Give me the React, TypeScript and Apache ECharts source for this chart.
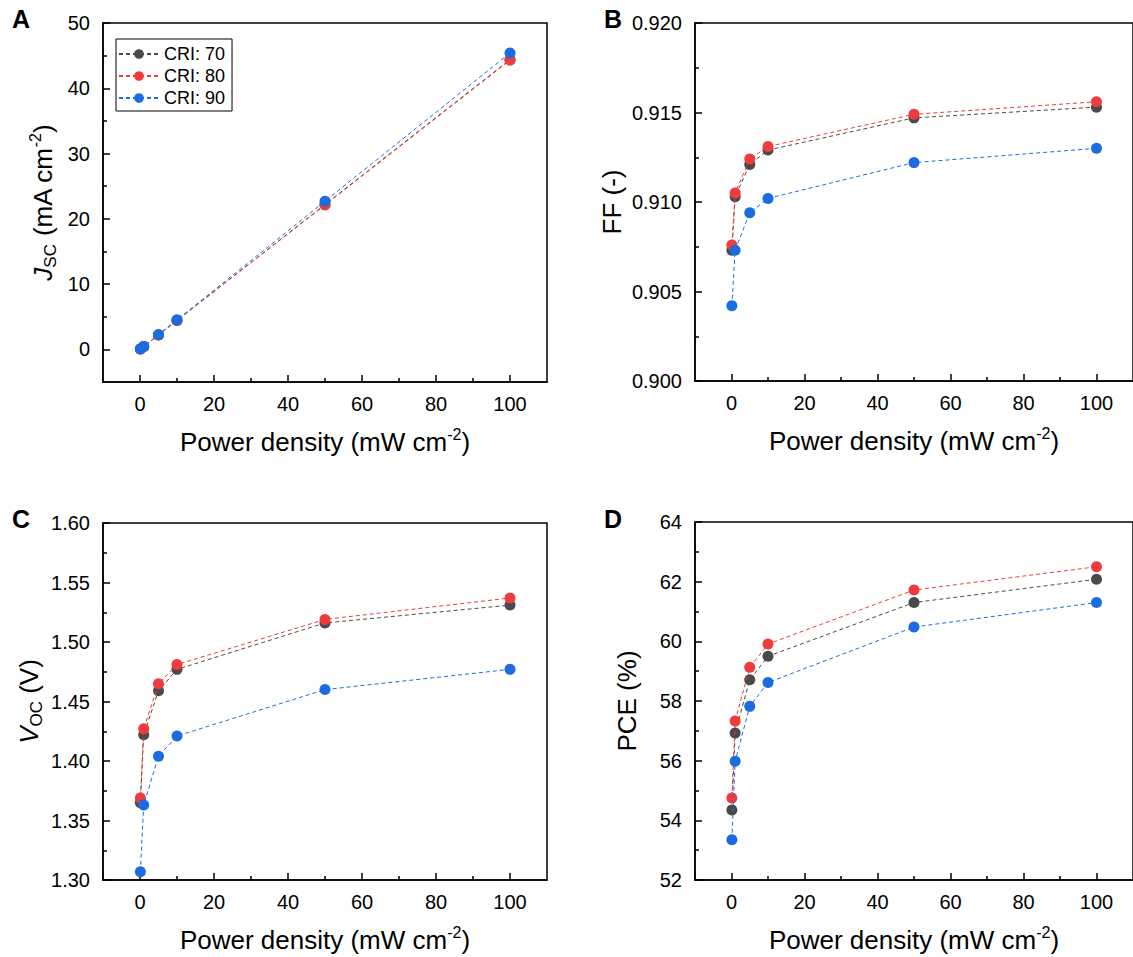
import React, { useEffect, useRef } from "react";
import * as echarts from "echarts";

const POWER = [0.1, 1, 5, 10, 50, 100];
const CRI_NAMES = ["CRI: 70", "CRI: 80", "CRI: 90"];
const COLORS = ["#4a4a4a", "#ef3b3b", "#1b6ddf"];

const JSC_70 = [0.045, 0.44, 2.21, 4.43, 22.2, 44.4];
const JSC_80 = [0.044, 0.44, 2.2, 4.42, 22.1, 44.3];
const JSC_90 = [0.046, 0.45, 2.26, 4.52, 22.7, 45.4];

const FF_70 = [0.9073, 0.9103, 0.9121, 0.9129, 0.9147, 0.9153];
const FF_80 = [0.9076, 0.9105, 0.9124, 0.9131, 0.9149, 0.9156];
const FF_90 = [0.9042, 0.9073, 0.9094, 0.9102, 0.9122, 0.913];

const VOC_70 = [1.365, 1.422, 1.459, 1.477, 1.516, 1.531];
const VOC_80 = [1.369, 1.427, 1.465, 1.481, 1.519, 1.537];
const VOC_90 = [1.307, 1.363, 1.404, 1.421, 1.46, 1.477];

const PCE_70 = [54.35, 56.93, 58.71, 59.5, 61.3, 62.08];
const PCE_80 = [54.75, 57.33, 59.13, 59.91, 61.72, 62.5];
const PCE_90 = [53.35, 55.98, 57.82, 58.62, 60.48, 61.3];

const X_MAJOR = [0, 20, 40, 60, 80, 100];
const X_MINOR = [10, 30, 50, 70, 90];

const JSC_MAJOR = [0, 10, 20, 30, 40, 50];
const JSC_MINOR = [5, 15, 25, 35, 45];
const FF_MAJOR = [0.9, 0.905, 0.91, 0.915, 0.92];
const FF_MINOR = [0.9025, 0.9075, 0.9125, 0.9175];
const VOC_MAJOR = [1.3, 1.35, 1.4, 1.45, 1.5, 1.55, 1.6];
const VOC_MINOR = [1.325, 1.375, 1.425, 1.475, 1.525, 1.575];
const PCE_MAJOR = [52, 54, 56, 58, 60, 62, 64];
const PCE_MINOR = [53, 55, 57, 59, 61, 63];

const FONT = "Liberation Sans, Arial, sans-serif";

const richStyles = {
  i: { fontStyle: "italic", fontSize: 26, fontFamily: FONT, color: "#000", lineHeight: 32 },
  sub: { fontSize: 17, fontFamily: FONT, color: "#000", verticalAlign: "bottom", lineHeight: 18 },
  sup: { fontSize: 16, fontFamily: FONT, color: "#000", verticalAlign: "top", lineHeight: 18 },
};

const nameStyle = {
  fontSize: 26,
  fontFamily: FONT,
  color: "#000",
  lineHeight: 32,
  rich: richStyles,
};

export default function App() {
  const ref = useRef<HTMLDivElement>(null);

  useEffect(() => {
    if (!ref.current) return;
    const chart = echarts.init(ref.current, null, { renderer: "svg" });

    const grids = [
      { left: 103, top: 23, width: 444, height: 359 },
      { left: 695, top: 23, width: 444, height: 358 },
      { left: 103, top: 523, width: 444, height: 360 },
      { left: 695, top: 522, width: 444, height: 360 },
    ].map((g) => ({
      ...g,
      show: true,
      borderColor: "#000",
      borderWidth: 1.5,
      backgroundColor: "transparent",
    }));

    const panels = [
      {
        min: -5, max: 50, major: JSC_MAJOR, minor: JSC_MINOR, fmt: (v: number) => String(Math.round(v)),
        name: "{i|J}{sub|SC} (mA cm{sup|-2})", nameGap: 44,
        data: [JSC_70, JSC_80, JSC_90],
      },
      {
        min: 0.9, max: 0.92, major: FF_MAJOR, minor: FF_MINOR, fmt: (v: number) => v.toFixed(3),
        name: "FF (-)", nameGap: 62,
        data: [FF_70, FF_80, FF_90],
      },
      {
        min: 1.3, max: 1.6, major: VOC_MAJOR, minor: VOC_MINOR, fmt: (v: number) => v.toFixed(2),
        name: "{i|V}{sub|OC} (V)", nameGap: 58,
        data: [VOC_70, VOC_80, VOC_90],
      },
      {
        min: 52, max: 64, major: PCE_MAJOR, minor: PCE_MINOR, fmt: (v: number) => String(Math.round(v)),
        name: "PCE (%)", nameGap: 52,
        data: [PCE_70, PCE_80, PCE_90],
      },
    ];

    const xAxis: any[] = [];
    const yAxis: any[] = [];
    const series: any[] = [];

    panels.forEach((p, g) => {
      xAxis.push({
        type: "value",
        gridIndex: g,
        position: "bottom",
        min: -10,
        max: 110,
        axisLine: { show: true, onZero: false, lineStyle: { color: "#000", width: 1.5 } },
        axisTick: { show: true, inside: true, length: 7, customValues: X_MAJOR, lineStyle: { color: "#000", width: 1.5 } },
        axisLabel: { customValues: X_MAJOR, fontSize: 20, fontFamily: FONT, color: "#000", margin: 12 },
        splitLine: { show: false },
        name: "Power density (mW cm{sup|-2})",
        nameLocation: "middle",
        nameGap: 44,
        nameTextStyle: nameStyle,
      });
      xAxis.push({
        type: "value",
        gridIndex: g,
        position: "bottom",
        min: -10,
        max: 110,
        axisLine: { show: false, onZero: false },
        axisTick: { show: true, inside: true, length: 4, customValues: X_MINOR, lineStyle: { color: "#000", width: 1.5 } },
        axisLabel: { show: false },
        splitLine: { show: false },
      });
      yAxis.push({
        type: "value",
        gridIndex: g,
        position: "left",
        min: p.min,
        max: p.max,
        axisLine: { show: true, onZero: false, lineStyle: { color: "#000", width: 1.5 } },
        axisTick: { show: true, inside: true, length: 7, customValues: p.major, lineStyle: { color: "#000", width: 1.5 } },
        axisLabel: { customValues: p.major, fontSize: 20, fontFamily: FONT, color: "#000", margin: 13, formatter: p.fmt },
        splitLine: { show: false },
        name: p.name,
        nameLocation: "middle",
        nameGap: p.nameGap,
        nameRotate: 90,
        nameTextStyle: nameStyle,
      });
      yAxis.push({
        type: "value",
        gridIndex: g,
        position: "left",
        min: p.min,
        max: p.max,
        axisLine: { show: false, onZero: false },
        axisTick: { show: true, inside: true, length: 4, customValues: p.minor, lineStyle: { color: "#000", width: 1.5 } },
        axisLabel: { show: false },
        splitLine: { show: false },
      });
      p.data.forEach((vals, c) => {
        series.push({
          type: "line",
          name: CRI_NAMES[c],
          xAxisIndex: 2 * g,
          yAxisIndex: 2 * g,
          data: POWER.map((x, i) => [x, vals[i]]),
          symbol: "circle",
          symbolSize: 11,
          showSymbol: true,
          lineStyle: { type: [4, 3], width: 1, color: COLORS[c] },
          itemStyle: { color: COLORS[c] },
          z: 2 + c,
        });
      });
    });

    const letters = [
      { t: "A", x: 12, y: 6 },
      { t: "B", x: 604, y: 6 },
      { t: "C", x: 12, y: 506 },
      { t: "D", x: 604, y: 506 },
    ];

    chart.setOption({
      animation: false,
      backgroundColor: "#fff",
      grid: grids,
      xAxis,
      yAxis,
      series,
      legend: {
        data: CRI_NAMES,
        orient: "vertical",
        left: 116,
        top: 39,
        backgroundColor: "#fff",
        borderColor: "#000",
        borderWidth: 1,
        borderRadius: 0,
        padding: [5, 7, 3, 2],
        itemGap: 2,
        itemWidth: 40,
        itemHeight: 12,
        textStyle: { fontSize: 18, fontFamily: FONT, color: "#000", lineHeight: 20 },
      },
      graphic: letters.map((l) => ({
        type: "text",
        left: l.x,
        top: l.y,
        style: { text: l.t, fontSize: 25, fontWeight: "bold", fontFamily: FONT, fill: "#000" },
      })),
    });

    return () => chart.dispose();
  }, []);

  return <div ref={ref} style={{ position: "fixed", left: 0, top: 0, width: 1133, height: 957 }} />;
}
